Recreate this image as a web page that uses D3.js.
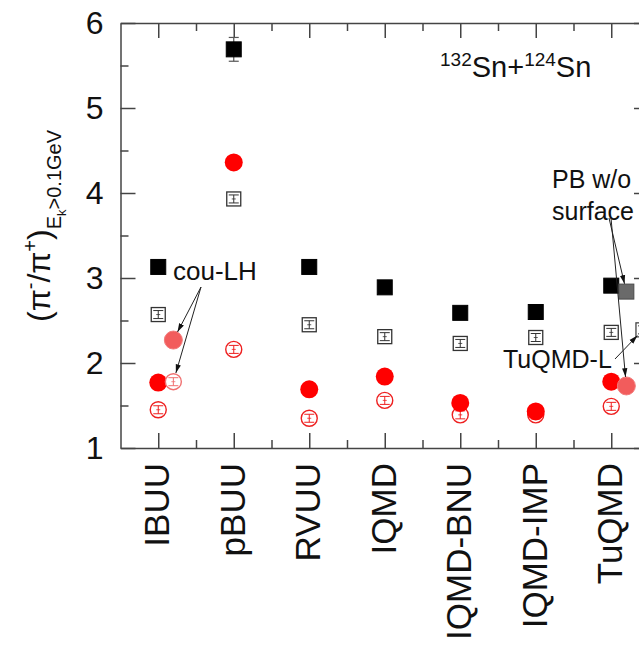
<!DOCTYPE html>
<html>
<head>
<meta charset="utf-8">
<script src="https://cdn.jsdelivr.net/npm/d3@7"></script>
<style>
  body { margin: 0; background: #fff; }
  svg { display: block; font-family: "Liberation Sans", Arial, sans-serif; }
</style>
</head>
<body>
<svg id="chart" width="639" height="646"></svg>
<script>
// models on the x axis
const categories = ["IBUU", "pBUU", "RVUU", "IQMD", "IQMD-BNU", "IQMD-IMP", "TuQMD"];

// pi-/pi+ ratio, E_k > 0.1 GeV
const solidSquares = [3.13, 5.69, 3.13, 2.89, 2.59, 2.60, 2.91];
const solidSquareErr = [0, 0.14, 0, 0, 0, 0, 0];
const openSquares = [2.57, 3.93, 2.45, 2.31, 2.23, 2.30, 2.36];
const solidCircles = [1.77, 4.36, 1.69, 1.84, 1.53, 1.43, 1.78];
const openCircles = [1.45, 2.16, 1.35, 1.56, 1.39, 1.39, 1.49];

// extra variants drawn beside their model
const variantCats = ["IBUU", "IBUU", "TuQMD", "TuQMD", "TuQMD"];
const variantKinds = ["fadedCircle", "fadedOpenCircle", "graySquare", "fadedCircle", "openSquare"];
const variantValues = [2.27, 1.78, 2.84, 1.73, 2.39];
const variantNotes = ["cou-LH", "cou-LH", "PB w/o surface", "PB w/o surface", "TuQMD-L"];

const yTicks = [1, 2, 3, 4, 5, 6];
const yMinor = [1.5, 2.5, 3.5, 4.5, 5.5];

const svg = d3.select("#chart");
const mLeft = 120.5, mRight = 649, mTop = 23, mBottom = 448;

const x = d3.scaleLinear().domain([0.5, categories.length + 0.5]).range([mLeft, mRight]);
const y = d3.scaleLinear().domain([1, 6]).range([mBottom, mTop]);
const xc = name => x(categories.indexOf(name) + 1);
const xMinor = d3.range(1.5, categories.length, 1);
const axisColor = "#444";

function styleAxis(g) {
  g.selectAll("path, line").attr("stroke", axisColor).attr("stroke-width", 1.5);
}

// frame + ticks
svg.append("g").attr("transform", `translate(0,${mBottom})`)
  .call(d3.axisBottom(x).tickValues(d3.range(1, categories.length + 1)).tickSize(-15).tickSizeOuter(0)
    .tickFormat(i => categories[i - 1]))
  .call(styleAxis)
  .call(g => g.selectAll(".tick text")
    .attr("transform", "rotate(-90)")
    .attr("x", -15).attr("y", 0).attr("dy", "0.3em")
    .attr("text-anchor", "end")
    .attr("font-size", 35).attr("fill", "#111"));
svg.append("g").attr("transform", `translate(0,${mBottom})`)
  .call(d3.axisBottom(x).tickValues(xMinor).tickSize(-8).tickFormat(""))
  .call(g => g.select(".domain").remove()).call(styleAxis);

svg.append("g").attr("transform", `translate(0,${mTop})`)
  .call(d3.axisTop(x).tickValues(d3.range(1, categories.length + 1)).tickSize(-15).tickSizeOuter(0).tickFormat(""))
  .call(styleAxis);
svg.append("g").attr("transform", `translate(0,${mTop})`)
  .call(d3.axisTop(x).tickValues(xMinor).tickSize(-8).tickFormat(""))
  .call(g => g.select(".domain").remove()).call(styleAxis);

svg.append("g").attr("transform", `translate(${mLeft},0)`)
  .call(d3.axisLeft(y).tickValues(yTicks).tickSize(-15).tickSizeOuter(0).tickPadding(17).tickFormat(d3.format("d")))
  .call(styleAxis)
  .call(g => g.selectAll(".tick text").attr("font-size", 32).attr("fill", "#111"));
svg.append("g").attr("transform", `translate(${mLeft},0)`)
  .call(d3.axisLeft(y).tickValues(yMinor).tickSize(-8).tickFormat(""))
  .call(g => g.select(".domain").remove()).call(styleAxis);

svg.append("g").attr("transform", `translate(${mRight},0)`)
  .call(d3.axisRight(y).tickValues(yTicks).tickSize(-15).tickSizeOuter(0).tickFormat(""))
  .call(styleAxis);
svg.append("g").attr("transform", `translate(${mRight},0)`)
  .call(d3.axisRight(y).tickValues(yMinor).tickSize(-8).tickFormat(""))
  .call(g => g.select(".domain").remove()).call(styleAxis);

// y label
const ylab = svg.append("text")
  .attr("transform", "translate(50,322) rotate(-90)")
  .attr("font-size", 32).attr("fill", "#111");
ylab.append("tspan").text("(π");
ylab.append("tspan").attr("font-size", 20).attr("dy", -13).text("-");
ylab.append("tspan").attr("dy", 13).text("/π");
ylab.append("tspan").attr("font-size", 20).attr("dy", -13).text("+");
ylab.append("tspan").attr("dy", 13).text(")");
ylab.append("tspan").attr("font-size", 20).attr("dy", 11).text("E");
ylab.append("tspan").attr("font-size", 13).attr("dy", 5).text("k");
ylab.append("tspan").attr("font-size", 20).attr("dy", -5).text(">0.1GeV");

// marker helpers
const plot = svg.append("g");

function innerErr(g, cx, cy, color) {
  g.append("line").attr("x1", cx).attr("x2", cx).attr("y1", cy - 4).attr("y2", cy + 4)
    .attr("stroke", color).attr("stroke-width", 1);
  [cy - 4, cy + 4].forEach(v => g.append("line").attr("x1", cx - 5).attr("x2", cx + 5)
    .attr("y1", v).attr("y2", v).attr("stroke", color).attr("stroke-width", 1));
  g.append("line").attr("x1", cx - 2).attr("x2", cx + 2).attr("y1", cy).attr("y2", cy)
    .attr("stroke", color).attr("stroke-width", 0.8);
}

function openCircle(cx, cy, color) {
  const g = plot.append("g");
  g.append("circle").attr("cx", cx).attr("cy", cy).attr("r", 8)
    .attr("fill", "#fff").attr("stroke", color).attr("stroke-width", 1.4);
  innerErr(g, cx, cy, color);
}
function openSquare(cx, cy, color) {
  const g = plot.append("g");
  g.append("rect").attr("x", cx - 7).attr("y", cy - 7).attr("width", 14).attr("height", 14)
    .attr("fill", "#fff").attr("stroke", color).attr("stroke-width", 1.3);
  innerErr(g, cx, cy, color);
}
function solidSquare(cx, cy, fill, stroke) {
  plot.append("rect").attr("x", cx - 7.5).attr("y", cy - 7.5).attr("width", 15).attr("height", 15)
    .attr("fill", fill).attr("stroke", stroke).attr("stroke-width", 1);
}
function solidCircle(cx, cy, fill) {
  plot.append("circle").attr("cx", cx).attr("cy", cy).attr("r", 9).attr("fill", fill);
}

categories.forEach((c, i) => {
  const cx = xc(c);
  openCircle(cx, y(openCircles[i]), "#ee2020");
  openSquare(cx, y(openSquares[i]), "#333");
  if (solidSquareErr[i] > 0) {
    const e = plot.append("g").attr("stroke", "#555").attr("stroke-width", 1.2);
    e.append("line").attr("x1", cx).attr("x2", cx)
      .attr("y1", y(solidSquares[i] + solidSquareErr[i])).attr("y2", y(solidSquares[i] - solidSquareErr[i]));
    [solidSquares[i] + solidSquareErr[i], solidSquares[i] - solidSquareErr[i]].forEach(v =>
      e.append("line").attr("x1", cx - 5).attr("x2", cx + 5).attr("y1", y(v)).attr("y2", y(v)));
  }
  solidSquare(cx, y(solidSquares[i]), "#000", "#000");
  solidCircle(cx, y(solidCircles[i]), "#ff0000");
});

// variants
const variantPos = [];
variantCats.forEach((c, i) => {
  const off = variantKinds[i] === "openSquare" ? 0.42 : 0.2;
  const cx = x(categories.indexOf(c) + 1 + off);
  const cy = y(variantValues[i]);
  variantPos.push([cx, cy]);
  const k = variantKinds[i];
  if (k === "fadedCircle") {
    plot.append("circle").attr("cx", cx).attr("cy", cy).attr("r", 9)
      .attr("fill", "#f25c5c").attr("stroke", "#f27a7a").attr("stroke-width", 1);
  } else if (k === "fadedOpenCircle") {
    openCircle(cx, cy, "#f07070");
  } else if (k === "graySquare") {
    solidSquare(cx, cy, "#6a6a6a", "#4a4a4a");
  } else if (k === "openSquare") {
    openSquare(cx, cy, "#444");
  }
});

// annotations
const defs = svg.append("defs");
defs.append("marker").attr("id", "ah").attr("viewBox", "0 -4 10 8")
  .attr("refX", 10).attr("refY", 0).attr("markerWidth", 9).attr("markerHeight", 7)
  .attr("markerUnits", "userSpaceOnUse").attr("orient", "auto")
  .append("path").attr("d", "M0,-3L10,0L0,3Z").attr("fill", "#111");

function arrow(x0, y0, i, gap) {
  const [tx, ty] = variantPos[i];
  const dx = tx - x0, dy = ty - y0, len = Math.hypot(dx, dy);
  svg.append("line").attr("x1", x0).attr("y1", y0)
    .attr("x2", tx - dx / len * gap).attr("y2", ty - dy / len * gap)
    .attr("stroke", "#222").attr("stroke-width", 1).attr("marker-end", "url(#ah)");
}

const noteAt = (txt, x0, y0) => svg.append("text").attr("x", x0).attr("y", y0)
  .attr("font-size", 25).attr("fill", "#111").text(txt);

noteAt("cou-LH", 173, 280).attr("font-size", 26);
arrow(201, 287, 0, 9);
arrow(201, 287, 1, 9);

noteAt("PB w/o", 552, 188);
noteAt("surface", 552, 220);
arrow(609, 218, 2, 8);
arrow(611, 218, 3, 9);

noteAt("TuQMD-L", 503, 368);
arrow(615, 359, 4, 8);

// title
const title = svg.append("text").attr("x", 440).attr("y", 77).attr("font-size", 29).attr("fill", "#111");
title.append("tspan").attr("font-size", 19).attr("dy", -11).text("132");
title.append("tspan").attr("dy", 11).text("Sn+");
title.append("tspan").attr("font-size", 19).attr("dy", -11).text("124");
title.append("tspan").attr("dy", 11).text("Sn");
</script>
</body>
</html>
